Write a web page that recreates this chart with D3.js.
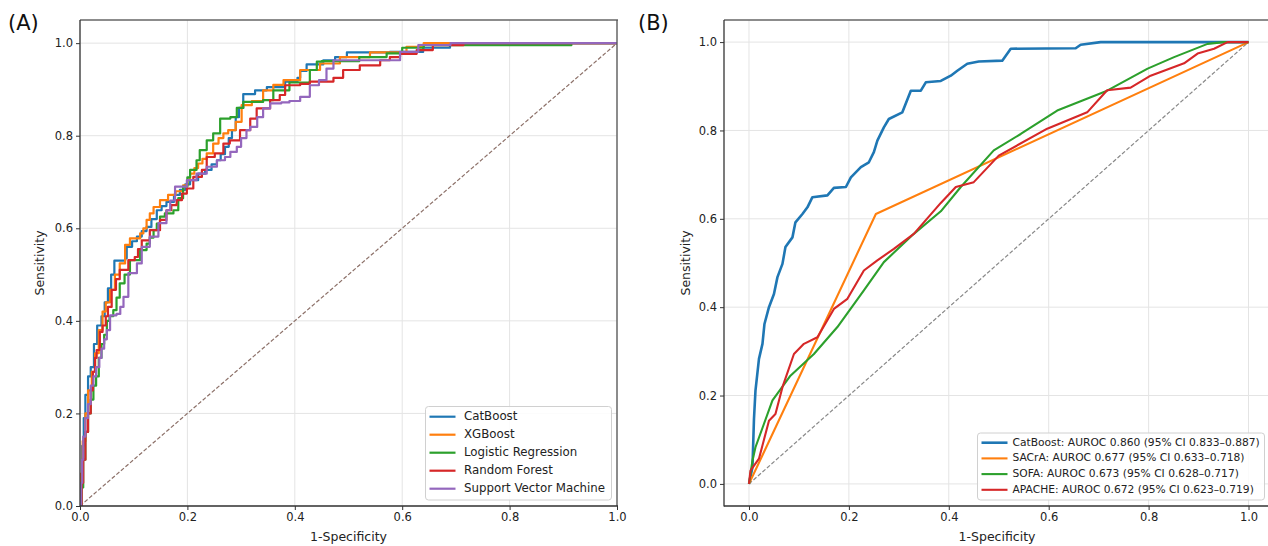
<!DOCTYPE html>
<html>
<head>
<meta charset="utf-8">
<script src="https://cdn.jsdelivr.net/npm/d3@7"></script>
<style>
  html, body { margin: 0; padding: 0; background: #fff; }
  svg { display: block; font-family: "DejaVu Sans", sans-serif; }
</style>
</head>
<body>
<svg id="chart" width="1268" height="546"></svg>
<script>
// ---- panel A: model ROC curves (fpr, tpr corners) ----
const catboostA = [[0,0],[0.002,0.06],[0.004,0.13],[0.007,0.19],[0.01,0.24],[0.015,0.28],[0.02,0.3],[0.026,0.35],[0.032,0.39],[0.04,0.41],[0.046,0.44],[0.052,0.47],[0.058,0.5],[0.064,0.53],[0.084,0.535],[0.087,0.56],[0.097,0.572],[0.106,0.582],[0.115,0.594],[0.124,0.603],[0.133,0.62],[0.143,0.639],[0.152,0.648],[0.161,0.657],[0.175,0.672],[0.186,0.683],[0.196,0.695],[0.205,0.704],[0.22,0.718],[0.233,0.726],[0.245,0.738],[0.255,0.747],[0.262,0.76],[0.27,0.776],[0.277,0.795],[0.283,0.812],[0.29,0.84],[0.296,0.86],[0.304,0.89],[0.326,0.898],[0.348,0.905],[0.382,0.917],[0.405,0.925],[0.41,0.94],[0.422,0.954],[0.453,0.963],[0.475,0.97],[0.497,0.98],[0.577,0.981],[0.639,0.99],[0.689,1.0],[1,1]];
const xgboostA = [[0,0],[0.002,0.07],[0.005,0.14],[0.01,0.2],[0.015,0.25],[0.022,0.29],[0.028,0.33],[0.035,0.38],[0.042,0.42],[0.048,0.44],[0.056,0.467],[0.065,0.5],[0.074,0.524],[0.084,0.564],[0.093,0.578],[0.112,0.589],[0.118,0.6],[0.124,0.618],[0.13,0.632],[0.137,0.646],[0.149,0.661],[0.164,0.672],[0.178,0.68],[0.192,0.693],[0.2,0.705],[0.205,0.718],[0.213,0.73],[0.22,0.74],[0.228,0.75],[0.236,0.762],[0.248,0.783],[0.258,0.795],[0.267,0.805],[0.276,0.812],[0.29,0.83],[0.301,0.866],[0.32,0.875],[0.341,0.898],[0.36,0.91],[0.379,0.92],[0.41,0.942],[0.447,0.956],[0.484,0.97],[0.54,0.98],[0.608,0.992],[0.64,1.0],[1,1]];
const logregA = [[0,0],[0.003,0.04],[0.006,0.1],[0.01,0.16],[0.015,0.2],[0.02,0.23],[0.025,0.26],[0.03,0.28],[0.035,0.32],[0.04,0.35],[0.045,0.37],[0.05,0.4],[0.055,0.41],[0.062,0.423],[0.068,0.45],[0.074,0.481],[0.083,0.5],[0.093,0.531],[0.112,0.553],[0.124,0.567],[0.13,0.58],[0.137,0.596],[0.143,0.61],[0.149,0.625],[0.158,0.632],[0.174,0.639],[0.183,0.665],[0.192,0.69],[0.2,0.71],[0.205,0.726],[0.217,0.747],[0.223,0.769],[0.236,0.79],[0.248,0.805],[0.261,0.837],[0.28,0.84],[0.292,0.86],[0.304,0.873],[0.341,0.877],[0.36,0.898],[0.39,0.915],[0.428,0.942],[0.441,0.96],[0.45,0.961],[0.52,0.97],[0.571,0.978],[0.6,0.99],[0.64,0.9957],[0.912,0.9957],[0.915,1.0],[1,1]];
const forestA = [[0,0],[0.003,0.05],[0.006,0.1],[0.01,0.16],[0.015,0.2],[0.02,0.25],[0.024,0.29],[0.028,0.32],[0.031,0.337],[0.037,0.376],[0.042,0.39],[0.048,0.41],[0.052,0.43],[0.059,0.467],[0.067,0.49],[0.074,0.51],[0.09,0.531],[0.102,0.538],[0.108,0.555],[0.115,0.574],[0.13,0.596],[0.149,0.618],[0.161,0.639],[0.17,0.65],[0.18,0.661],[0.19,0.675],[0.199,0.686],[0.211,0.711],[0.227,0.726],[0.236,0.754],[0.251,0.762],[0.267,0.783],[0.279,0.79],[0.298,0.812],[0.317,0.837],[0.329,0.859],[0.354,0.877],[0.372,0.888],[0.382,0.909],[0.41,0.912],[0.428,0.917],[0.472,0.925],[0.49,0.942],[0.521,0.952],[0.559,0.963],[0.577,0.97],[0.596,0.977],[0.627,0.985],[0.657,0.9957],[0.714,1.0],[1,1]];
const svmA = [[0,0],[0.002,0.05],[0.004,0.1],[0.006,0.15],[0.01,0.19],[0.015,0.22],[0.02,0.26],[0.025,0.28],[0.03,0.3],[0.036,0.32],[0.04,0.34],[0.045,0.36],[0.05,0.38],[0.056,0.412],[0.068,0.415],[0.075,0.43],[0.081,0.452],[0.09,0.503],[0.106,0.524],[0.115,0.56],[0.13,0.582],[0.146,0.611],[0.161,0.639],[0.168,0.66],[0.177,0.69],[0.199,0.704],[0.217,0.718],[0.236,0.733],[0.255,0.747],[0.27,0.754],[0.28,0.765],[0.292,0.776],[0.3,0.795],[0.31,0.812],[0.317,0.819],[0.33,0.84],[0.341,0.859],[0.354,0.87],[0.375,0.872],[0.39,0.875],[0.41,0.884],[0.428,0.909],[0.445,0.92],[0.459,0.945],[0.472,0.963],[0.577,0.963],[0.596,0.981],[0.63,0.996],[0.69,1.0],[1,1]];
const namesA = ["CatBoost", "XGBoost", "Logistic Regression", "Random Forest", "Support Vector Machine"];

// ---- panel B: CatBoost vs clinical scores ----
const catboostB = [[0,0],[0.007,0.038],[0.01,0.147],[0.013,0.211],[0.02,0.283],[0.027,0.317],[0.031,0.362],[0.04,0.4],[0.05,0.43],[0.057,0.468],[0.067,0.498],[0.073,0.536],[0.087,0.558],[0.093,0.592],[0.107,0.611],[0.117,0.626],[0.127,0.649],[0.157,0.653],[0.17,0.67],[0.194,0.672],[0.204,0.694],[0.224,0.717],[0.24,0.728],[0.25,0.751],[0.257,0.777],[0.27,0.807],[0.28,0.826],[0.307,0.841],[0.324,0.89],[0.344,0.89],[0.354,0.909],[0.384,0.912],[0.404,0.924],[0.417,0.935],[0.437,0.951],[0.46,0.956],[0.507,0.958],[0.524,0.985],[0.654,0.986],[0.664,0.994],[0.704,1.0],[1,1]];
const sacraB = [[0,0],[0.254,0.611],[1,1]];
const sofaB = [[0,0],[0.007,0.053],[0.013,0.083],[0.047,0.189],[0.083,0.245],[0.13,0.294],[0.177,0.355],[0.23,0.438],[0.27,0.502],[0.33,0.566],[0.384,0.617],[0.424,0.672],[0.49,0.755],[0.544,0.792],[0.617,0.845],[0.717,0.89],[0.798,0.94],[0.851,0.966],[0.918,0.996],[0.95,1.0],[1,1]];
const apacheB = [[0,0],[0.003,0.03],[0.02,0.057],[0.04,0.143],[0.053,0.158],[0.067,0.219],[0.09,0.294],[0.11,0.317],[0.137,0.332],[0.17,0.396],[0.197,0.419],[0.23,0.483],[0.257,0.506],[0.29,0.532],[0.33,0.566],[0.384,0.636],[0.414,0.672],[0.45,0.683],[0.5,0.743],[0.597,0.804],[0.677,0.841],[0.717,0.891],[0.764,0.897],[0.804,0.924],[0.871,0.952],[0.898,0.974],[0.931,0.985],[0.958,1.0],[1,1]];
const namesB = [
  "CatBoost: AUROC 0.860 (95% CI 0.833\u20130.887)",
  "SACrA: AUROC 0.677 (95% CI 0.633\u20130.718)",
  "SOFA: AUROC 0.673 (95% CI 0.628\u20130.717)",
  "APACHE: AUROC 0.672 (95% CI 0.623\u20130.719)",
];

const tickVals = [0, 0.2, 0.4, 0.6, 0.8, 1.0];
const colors = ["#1f77b4", "#ff7f0e", "#2ca02c", "#d62728", "#9467bd"];

const svg = d3.select("#chart");
svg.append("rect").attr("width", 1268).attr("height", 546).attr("fill", "#fff");

function drawPanel(p) {
  const g = svg.append("g");
  const x = d3.scaleLinear().domain(p.xDom).range([p.left, p.right]);
  const y = d3.scaleLinear().domain(p.yDom).range([p.bottom, p.top]);

  const clipId = "clip" + p.tag;
  svg.append("clipPath").attr("id", clipId).append("rect")
    .attr("x", p.left).attr("y", p.top).attr("width", p.right - p.left).attr("height", p.bottom - p.top);

  // grid
  g.selectAll(".gx").data(tickVals).join("line")
    .attr("x1", (d) => x(d)).attr("x2", (d) => x(d)).attr("y1", p.top).attr("y2", p.bottom)
    .attr("stroke", "#e4e4e4").attr("stroke-width", 1);
  g.selectAll(".gy").data(tickVals).join("line")
    .attr("y1", (d) => y(d)).attr("y2", (d) => y(d)).attr("x1", p.left).attr("x2", p.right)
    .attr("stroke", "#e4e4e4").attr("stroke-width", 1);

  const plot = g.append("g").attr("clip-path", `url(#${clipId})`);
  // chance line
  plot.append("line")
    .attr("x1", x(0)).attr("y1", y(0)).attr("x2", x(1)).attr("y2", y(1))
    .attr("stroke", p.diagColor).attr("stroke-width", 1.2).attr("stroke-dasharray", "4,2");

  const line = d3.line().x((d) => x(d[0])).y((d) => y(d[1])).curve(p.curve);
  p.series.forEach((s, i) => {
    plot.append("path").attr("d", line(s)).attr("fill", "none")
      .attr("stroke", colors[i]).attr("stroke-width", p.lw[i] || 2).attr("stroke-linejoin", "round");
  });

  // axes
  const fmt = d3.format(".1f");
  const ax = g.append("g").attr("transform", `translate(0,${p.bottom})`)
    .call(d3.axisBottom(x).tickValues(tickVals).tickFormat(fmt).tickSize(4).tickPadding(3));
  const ay = g.append("g").attr("transform", `translate(${p.left},0)`)
    .call(d3.axisLeft(y).tickValues(tickVals).tickFormat(fmt).tickSize(4).tickPadding(3));
  [ax, ay].forEach((a) => {
    a.select(".domain").remove();
    a.selectAll("line").attr("stroke", "#333");
    a.selectAll("text").attr("fill", "#222").style("font-size", "11.5px").style("font-family", "DejaVu Sans");
  });

  // spines
  g.append("line").attr("x1", p.left).attr("x2", p.right + 1).attr("y1", p.top).attr("y2", p.top).attr("stroke", "#666").attr("stroke-width", 1.3);
  g.append("line").attr("x1", p.right).attr("x2", p.right).attr("y1", p.top).attr("y2", p.bottom).attr("stroke", "#555").attr("stroke-width", 1.3);
  g.append("line").attr("x1", p.left).attr("x2", p.left).attr("y1", p.top).attr("y2", p.bottom + 0.6).attr("stroke", "#333").attr("stroke-width", 1.3);
  g.append("line").attr("x1", p.left).attr("x2", p.right + 1).attr("y1", p.bottom).attr("y2", p.bottom).attr("stroke", "#333").attr("stroke-width", 1.3);

  // labels
  g.append("text").attr("x", p.labelX).attr("y", 537).attr("text-anchor", "middle")
    .attr("dominant-baseline", "middle").style("font-size", "12.5px").attr("fill", "#222").text("1-Specificity");
  g.append("text").attr("transform", `translate(${p.yLabelX},${(p.top + p.bottom) / 2}) rotate(-90)`)
    .attr("text-anchor", "middle").attr("dominant-baseline", "middle")
    .style("font-size", "12.5px").attr("fill", "#222").text("Sensitivity");
  g.append("text").attr("x", p.tagX).attr("y", 24).attr("dominant-baseline", "middle")
    .style("font-size", "21px").attr("fill", "#111").text(`(${p.tag})`);

  // legend
  const L = p.legend;
  g.append("rect").attr("x", L.x).attr("y", L.y).attr("width", L.w).attr("height", L.h)
    .attr("rx", 3).attr("fill", "#fff").attr("fill-opacity", 0.85).attr("stroke", "#d0d0d0");
  p.names.forEach((n, i) => {
    const yy = L.firstRow + i * L.step;
    g.append("line").attr("x1", L.x + 4).attr("x2", L.x + 30).attr("y1", yy).attr("y2", yy)
      .attr("stroke", colors[i]).attr("stroke-width", p.lw[i] || 2);
    g.append("text").attr("x", L.textX).attr("y", yy).attr("dominant-baseline", "middle")
      .style("font-size", L.font).attr("fill", "#222").text(n);
  });
}

function init() {
  drawPanel({
    tag: "A", tagX: 8,
    left: 80, right: 617, top: 20, bottom: 506,
    xDom: [0, 1], yDom: [0, 1.05],
    series: [catboostA, xgboostA, logregA, forestA, svmA],
    names: namesA, lw: [2.2, 2.2, 2.2, 2.2, 2.2],
    curve: d3.curveStepAfter, diagColor: "#8c7068",
    labelX: 348.5, yLabelX: 40,
    legend: { x: 425.5, y: 406.5, w: 186, h: 93.5, firstRow: 416.7, step: 18, textX: 464, font: "11.8px" },
  });
  drawPanel({
    tag: "B", tagX: 638,
    left: 724, right: 1273.5, top: 20, bottom: 506,
    xDom: [-0.05, 1.05], yDom: [-0.05, 1.05],
    series: [catboostB, sacraB, sofaB, apacheB],
    names: namesB, lw: [2.6, 2.1, 2.1, 2.1],
    curve: d3.curveLinear, diagColor: "#888",
    labelX: 997, yLabelX: 686,
    legend: { x: 977.5, y: 433, w: 287, h: 67, firstRow: 442.7, step: 15.7, textX: 1012.5, font: "10.7px" },
  });
}

init();
</script>
</body>
</html>
